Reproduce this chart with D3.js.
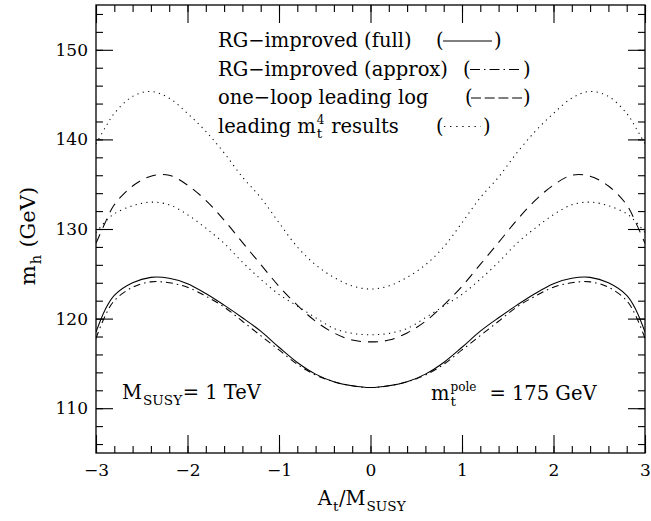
<!DOCTYPE html>
<html>
<head>
<meta charset="utf-8">
<script src="https://cdn.jsdelivr.net/npm/d3@7/dist/d3.min.js"></script>
<style>
  body { margin: 0; background: #fff; }
  svg { font-family: "DejaVu Serif", serif; }
</style>
</head>
<body>
<svg id="chart" width="651" height="521"></svg>
<script>
// A_t / M_SUSY sample points
var atOverM = [-3, -2.9, -2.8, -2.6, -2.4, -2.2, -2.0, -1.8, -1.6, -1.4, -1.2, -1.0, -0.8, -0.6, -0.4, -0.2, 0,
  0.2, 0.4, 0.6, 0.8, 1.0, 1.2, 1.4, 1.6, 1.8, 2.0, 2.2, 2.4, 2.6, 2.8, 2.9, 3];

// m_h (GeV)
var rgFull = [118.5, 121.0, 122.6, 124.0, 124.6, 124.5, 123.9, 122.8, 121.5, 120.1, 118.6, 116.8, 115.1, 113.8, 112.95, 112.5, 112.3,
  112.5, 112.95, 113.8, 115.1, 116.8, 118.6, 120.1, 121.5, 122.8, 123.9, 124.5, 124.6, 124.0, 122.6, 121.0, 118.5];
var rgApprox = [117.8, 120.3, 122.0, 123.5, 124.1, 124.0, 123.5, 122.5, 121.3, 119.7, 118.1, 116.5, 114.9, 113.7, 112.95, 112.5, 112.3,
  112.5, 112.95, 113.7, 114.9, 116.5, 118.1, 119.7, 121.3, 122.5, 123.5, 124.0, 124.1, 123.5, 122.0, 120.3, 117.8];
var oneLoop = [128.4, 130.7, 132.7, 134.8, 135.9, 136.0, 134.9, 133.2, 131.0, 128.5, 126.05, 123.6, 121.5, 119.7, 118.4, 117.6, 117.4,
  117.6, 118.4, 119.7, 121.5, 123.6, 126.05, 128.5, 131.0, 133.2, 134.9, 136.0, 135.9, 134.8, 132.7, 130.7, 128.4];
var mt4Low = [129.6, 130.8, 131.7, 132.6, 133.0, 132.7, 131.6, 130.1, 128.4, 126.3, 124.4, 122.7, 121.4, 120.1, 118.9, 118.35, 118.2,
  118.35, 118.9, 120.1, 121.4, 122.7, 124.4, 126.3, 128.4, 130.1, 131.6, 132.7, 133.0, 132.6, 131.7, 130.8, 129.6];
var mt4High = [139.5, 141.3, 142.9, 144.8, 145.35, 144.6, 142.9, 140.9, 138.5, 135.8, 133.5, 130.7, 128.0, 126.0, 124.6, 123.65, 123.3,
  123.65, 124.6, 126.0, 128.0, 130.7, 133.5, 135.8, 138.5, 140.9, 142.9, 144.6, 145.35, 144.8, 142.9, 141.3, 139.5];

var xMajor = [-3, -2, -1, 0, 1, 2, 3];
var yMajor = [110, 120, 130, 140, 150];

var dashes = {
  full: null,
  approx: '7,4,1.5,4',
  oneLoop: '10,7',
  mt4: '1.2,4.3'
};

var curves = [
  {values: rgFull, dash: dashes.full},
  {values: rgApprox, dash: dashes.approx},
  {values: oneLoop, dash: dashes.oneLoop},
  {values: mt4Low, dash: dashes.mt4},
  {values: mt4High, dash: dashes.mt4}
];

var plotL = 96, plotR = 645, plotT = 5, plotB = 453;

var svg = d3.select('#chart');
svg.append('rect').attr('width', 651).attr('height', 521).attr('fill', '#fff');

var x = d3.scaleLinear().domain([-3, 3]).range([plotL, plotR]);
var y = d3.scaleLinear().domain([105, 155]).range([plotB, plotT]);

function styleAxis(g) {
  g.select('.domain').remove();
  g.selectAll('line').attr('stroke', '#000').attr('stroke-width', 1.1);
  g.selectAll('text')
    .attr('font-family', '"DejaVu Serif", serif')
    .attr('font-size', 17)
    .attr('fill', '#000');
}

var xMinor = d3.range(-30, 31, 2).map(function(d) { return d / 10; });
var yMinor = d3.range(106, 155, 2);

// bottom
svg.append('g').attr('transform', 'translate(0,' + plotB + ')')
  .call(d3.axisBottom(x).tickValues(xMinor).tickSize(-7).tickFormat(''))
  .call(styleAxis);
svg.append('g').attr('transform', 'translate(0,' + plotB + ')')
  .call(d3.axisBottom(x).tickValues(xMajor).tickSize(-18).tickPadding(11).tickFormat(d3.format('d')))
  .call(styleAxis);
// top
svg.append('g').attr('transform', 'translate(0,' + plotT + ')')
  .call(d3.axisTop(x).tickValues(xMinor).tickSize(-7).tickFormat(''))
  .call(styleAxis);
svg.append('g').attr('transform', 'translate(0,' + plotT + ')')
  .call(d3.axisTop(x).tickValues(xMajor).tickSize(-18).tickFormat(''))
  .call(styleAxis);
// left
svg.append('g').attr('transform', 'translate(' + plotL + ',0)')
  .call(d3.axisLeft(y).tickValues(yMinor).tickSize(-7).tickFormat(''))
  .call(styleAxis);
svg.append('g').attr('transform', 'translate(' + plotL + ',0)')
  .call(d3.axisLeft(y).tickValues(yMajor).tickSize(-17).tickPadding(8).tickFormat(d3.format('d')))
  .call(styleAxis);
// right
svg.append('g').attr('transform', 'translate(' + plotR + ',0)')
  .call(d3.axisRight(y).tickValues(yMinor).tickSize(-7).tickFormat(''))
  .call(styleAxis);
svg.append('g').attr('transform', 'translate(' + plotR + ',0)')
  .call(d3.axisRight(y).tickValues(yMajor).tickSize(-17).tickFormat(''))
  .call(styleAxis);

svg.append('rect')
  .attr('x', plotL).attr('y', plotT)
  .attr('width', plotR - plotL).attr('height', plotB - plotT)
  .attr('fill', 'none').attr('stroke', '#000').attr('stroke-width', 1.3);

svg.append('clipPath').attr('id', 'plotClip')
  .append('rect').attr('x', plotL).attr('y', plotT)
  .attr('width', plotR - plotL).attr('height', plotB - plotT);

var line = d3.line()
  .x(function(d) { return x(d[0]); })
  .y(function(d) { return y(d[1]); })
  .curve(d3.curveCatmullRom.alpha(0.5));

svg.append('g').attr('clip-path', 'url(#plotClip)')
  .selectAll('path')
  .data(curves)
  .join('path')
  .attr('d', function(c) { return line(d3.zip(atOverM, c.values)); })
  .attr('fill', 'none')
  .attr('stroke', '#000')
  .attr('stroke-width', 1.05)
  .attr('stroke-dasharray', function(c) { return c.dash; });

// text with sub/superscripts; spaces kept as no-break spaces
function richText(g, x0, y0, parts, size) {
  var cx = x0;
  parts.forEach(function(p) {
    if (p.t) {
      var t = g.append('text').attr('x', cx).attr('y', y0)
        .attr('font-size', size).text(p.t.replace(/ /g, '\u00a0'));
      cx += t.node().getComputedTextLength();
    }
    if (p.sub || p.sup) {
      var w = 0, s;
      if (p.sub) {
        s = g.append('text').attr('x', cx + 1).attr('y', y0 + size * 0.3)
          .attr('font-size', size * 0.7).text(p.sub);
        w = s.node().getComputedTextLength();
      }
      if (p.sup) {
        s = g.append('text').attr('x', cx + 1).attr('y', y0 - size * 0.45)
          .attr('font-size', size * 0.62).text(p.sup);
        w = Math.max(w, s.node().getComputedTextLength());
      }
      cx += w + 1.5;
    }
  });
  return cx - x0;
}

var fs = 19.5;
var legend = svg.append('g').attr('fill', '#000');
var legendRows = [
  {parts: [{t: 'RG−improved (full)'}], base: 47, open: 436, x1: 443, x2: 492, close: 494, dash: dashes.full},
  {parts: [{t: 'RG−improved (approx)'}], base: 75.5, open: 463, x1: 470, x2: 519, close: 523, dash: '10,4,1.5,4'},
  {parts: [{t: 'one−loop leading log'}], base: 104, open: 465, x1: 471, x2: 522, close: 523, dash: '10,3.7'},
  {parts: [{t: 'leading m', sub: 't', sup: '4'}, {t: ' results'}], base: 132.5, open: 436, x1: 444, x2: 481, close: 483, dash: '1.3,4.8'}
];
legendRows.forEach(function(r) {
  richText(legend, 218, r.base, r.parts, fs);
  legend.append('text').attr('x', r.open).attr('y', r.base).attr('font-size', fs).text('(');
  legend.append('text').attr('x', r.close).attr('y', r.base).attr('font-size', fs).text(')');
  legend.append('line')
    .attr('x1', r.x1).attr('x2', r.x2)
    .attr('y1', r.base - 6).attr('y2', r.base - 6)
    .attr('stroke', '#000').attr('stroke-width', 1.1)
    .attr('stroke-dasharray', r.dash);
});

// annotations
var notes = svg.append('g').attr('fill', '#000');
richText(notes, 122, 399, [{t: 'M', sub: 'SUSY'}, {t: '= 1 TeV'}], fs);
richText(notes, 431, 400, [{t: 'm', sub: 't', sup: 'pole'}, {t: '  = 175 GeV'}], fs);

// x axis title
var xt = svg.append('g').attr('fill', '#000');
var wx = richText(xt, 0, 505, [{t: 'A', sub: 't'}, {t: '/M', sub: 'SUSY'}], fs);
xt.attr('transform', 'translate(' + (362 - wx / 2) + ',0)');

// y axis title
var yt = svg.append('g').attr('fill', '#000');
var wy = richText(yt, 0, 0, [{t: 'm', sub: 'h'}, {t: ' (GeV)'}], 21);
yt.attr('transform', 'translate(35,' + (236 + wy / 2) + ') rotate(-90)');
</script>
</body>
</html>
